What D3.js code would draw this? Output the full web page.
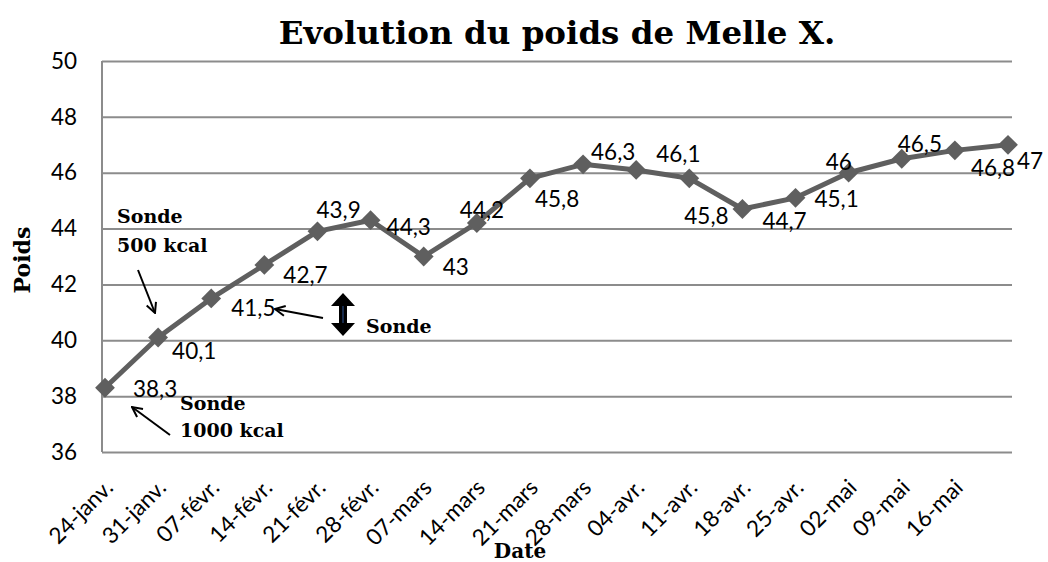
<!DOCTYPE html>
<html>
<head>
<meta charset="utf-8">
<script src="https://cdn.jsdelivr.net/npm/d3@7"></script>
<style>
  body { margin: 0; background: #fff; }
  svg { display: block; }
</style>
</head>
<body>
<svg id="chart"></svg>
<script>
// data
const dates = ["2011-01-24", "2011-01-31", "2011-02-07", "2011-02-14", "2011-02-21", "2011-02-28",
	"2011-03-07", "2011-03-14", "2011-03-21", "2011-03-28", "2011-04-04", "2011-04-11",
	"2011-04-18", "2011-04-25", "2011-05-02", "2011-05-09", "2011-05-16", "2011-05-23"];
const poids = [38.3, 40.1, 41.5, 42.7, 43.9, 44.3, 43, 44.2, 45.8, 46.3, 46.1, 45.8, 44.7, 45.1, 46, 46.5, 46.8, 47];
const tickLabels = ["24-janv.", "31-janv.", "07-févr.", "14-févr.", "21-févr.", "28-févr.", "07-mars", "14-mars",
	"21-mars", "28-mars", "04-avr.", "11-avr.", "18-avr.", "25-avr.", "02-mai", "09-mai", "16-mai"];
const yTicks = [36, 38, 40, 42, 44, 46, 48, 50];
const title = "Evolution du poids de Melle X.";

// where excel put each data label (dx, dy from the point)
const labelOffsets = [[28, 9], [14, 22], [20, 18], [19, 18], [-1, -13], [16, 15], [19, 18], [-17, -5],
	[5, 29], [8, -4], [20, -8], [-5, 46], [20, 20], [19, 9], [-23, -3], [-4, -7], [16, 26], [9, 24]];

const W = 1048, H = 562;
const margin = {left: 102, top: 61, right: 36, bottom: 110};
const width = W - margin.left - margin.right, height = H - margin.top - margin.bottom;

const parse = d3.timeParse("%Y-%m-%d");
const data = dates.map((d, i) => ({date: parse(d), value: poids[i], label: d3.format(".1~f")(poids[i]).replace(".", ",")}));

const svg = d3.select("#chart").attr("width", W).attr("height", H);
const numFont = "Lato, 'Open Sans', sans-serif";
const serif = "'DejaVu Serif', serif";
const numSize = 22.5;

const x = d3.scaleTime()
	.domain(d3.extent(data, d => d.date))
	.range([3, width - 4]);
const y = d3.scaleLinear()
	.domain([36, 50])
	.range([height, 0]);

const g = svg.append("g").attr("transform", `translate(${margin.left},${margin.top})`);

// gridlines
g.append("g")
	.call(d3.axisLeft(y).tickValues(yTicks).tickSize(-width).tickFormat(""))
	.call(s => s.select(".domain").remove())
	.selectAll("line").attr("stroke", "#8c8c8c").attr("stroke-width", 2);

// left axis line
g.append("line")
	.attr("x1", 0).attr("x2", 0).attr("y1", y(50)).attr("y2", y(36))
	.attr("stroke", "#8c8c8c").attr("stroke-width", 2);

// y tick labels
g.append("g")
	.call(d3.axisLeft(y).tickValues(yTicks).tickSize(0).tickPadding(25))
	.call(s => s.select(".domain").remove())
	.selectAll("text")
	.attr("font-family", numFont).attr("font-size", numSize).attr("fill", "#000");

// x tick labels
g.append("g")
	.attr("transform", `translate(0,${height})`)
	.call(d3.axisBottom(x).tickValues(data.slice(0, tickLabels.length).map(d => d.date))
		.tickFormat((d, i) => tickLabels[i]).tickSize(0))
	.call(s => s.select(".domain").remove())
	.selectAll("text")
	.attr("font-family", numFont).attr("font-size", numSize).attr("fill", "#000")
	.attr("text-anchor", "end")
	.attr("dy", 0).attr("y", 0)
	.attr("transform", "translate(9,37) rotate(-45)");

// the line
const line = d3.line().x(d => x(d.date)).y(d => y(d.value));
g.append("path")
	.datum(data)
	.attr("fill", "none")
	.attr("stroke", "#5f5f5f")
	.attr("stroke-width", 5)
	.attr("stroke-linejoin", "round")
	.attr("d", line);

// diamond markers
g.selectAll(".pt")
	.data(data)
	.enter()
	.append("path")
	.attr("class", "pt")
	.attr("d", d3.symbol(d3.symbolSquare, 196))
	.attr("fill", "#5f5f5f")
	.attr("transform", d => `translate(${x(d.date)},${y(d.value)}) rotate(45)`);

// data labels
g.selectAll(".lbl")
	.data(data)
	.enter()
	.append("text")
	.attr("class", "lbl")
	.attr("x", (d, i) => x(d.date) + labelOffsets[i][0])
	.attr("y", (d, i) => y(d.value) + labelOffsets[i][1])
	.attr("font-family", numFont).attr("font-size", numSize).attr("fill", "#000")
	.text(d => d.label);

// title and axis titles
svg.append("text")
	.attr("x", margin.left + width / 2).attr("y", 44)
	.attr("text-anchor", "middle")
	.attr("font-family", serif).attr("font-weight", "bold").attr("font-size", 32.5)
	.text(title);

svg.append("text")
	.attr("transform", "translate(30,260) rotate(-90)")
	.attr("text-anchor", "middle")
	.attr("font-family", serif).attr("font-weight", "bold").attr("font-size", 22)
	.text("Poids");

svg.append("text")
	.attr("x", 520).attr("y", 558)
	.attr("text-anchor", "middle")
	.attr("font-family", serif).attr("font-weight", "bold").attr("font-size", 20)
	.text("Date");

// annotations
const defs = svg.append("defs");
defs.append("marker")
	.attr("id", "head")
	.attr("viewBox", "0 0 12 12")
	.attr("refX", 11).attr("refY", 6)
	.attr("markerWidth", 12).attr("markerHeight", 12)
	.attr("markerUnits", "userSpaceOnUse")
	.attr("orient", "auto")
	.append("path")
	.attr("d", "M1,1 L11,6 L1,11")
	.attr("fill", "none").attr("stroke", "#000").attr("stroke-width", 2);

const arrows = [
	[[138, 270], [155, 313]],
	[[170, 435], [132, 407]],
	[[323, 318], [275, 309]]
];
svg.selectAll(".arrow")
	.data(arrows)
	.enter()
	.append("line")
	.attr("class", "arrow")
	.attr("x1", d => d[0][0]).attr("y1", d => d[0][1])
	.attr("x2", d => d[1][0]).attr("y2", d => d[1][1])
	.attr("stroke", "#000").attr("stroke-width", 2)
	.attr("marker-end", "url(#head)");

const notes = [
	{x: 117, y: 223, t: "Sonde"},
	{x: 117, y: 252, t: "500 kcal"},
	{x: 180, y: 410, t: "Sonde"},
	{x: 180, y: 437, t: "1000 kcal"},
	{x: 366, y: 333, t: "Sonde"}
];
svg.selectAll(".note")
	.data(notes)
	.enter()
	.append("text")
	.attr("class", "note")
	.attr("x", d => d.x).attr("y", d => d.y)
	.attr("font-family", serif).attr("font-weight", "bold").attr("font-size", 19)
	.text(d => d.t);

// thick double arrow
const dbl = svg.append("g").attr("transform", "translate(343,293)");
dbl.append("path")
	.attr("d", "M0,0 L12,13 L4,13 L4,30 L12,30 L0,43 L-12,30 L-4,30 L-4,13 L-12,13 Z")
	.attr("fill", "#000");
dbl.append("line")
	.attr("x1", 0).attr("x2", 0).attr("y1", 13).attr("y2", 30)
	.attr("stroke", "#1f3864").attr("stroke-width", 1.5);
</script>
</body>
</html>
